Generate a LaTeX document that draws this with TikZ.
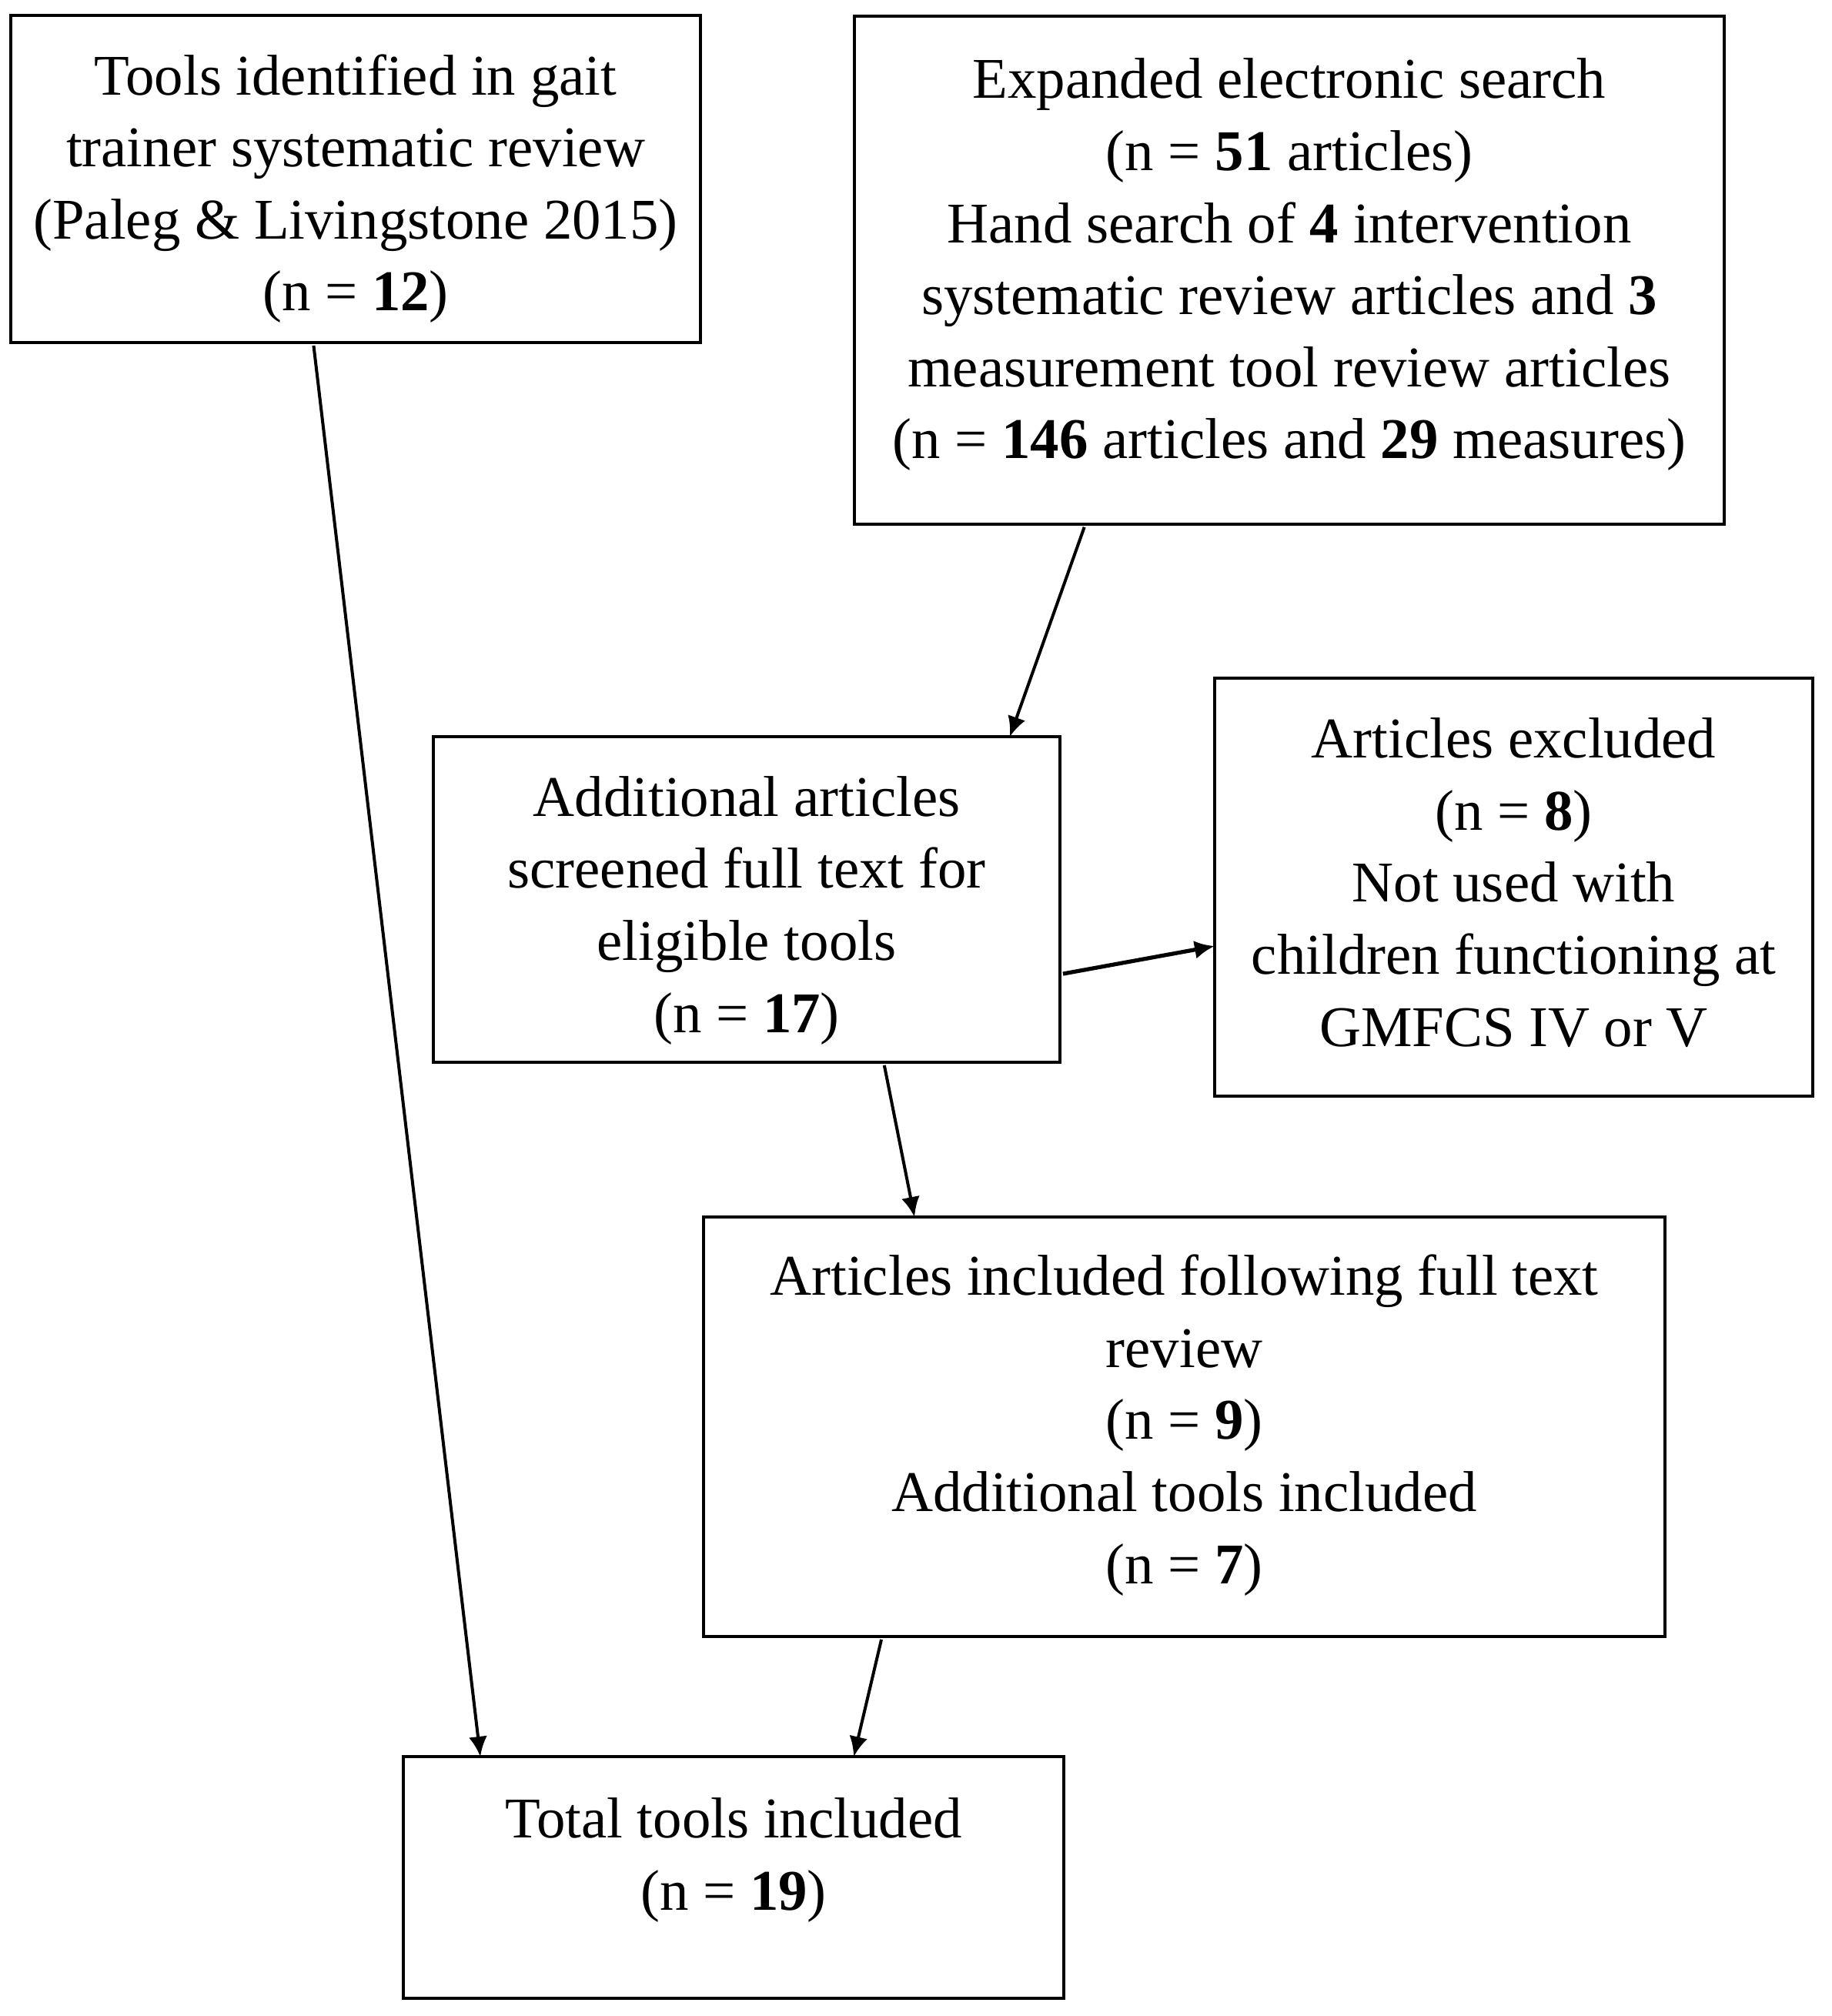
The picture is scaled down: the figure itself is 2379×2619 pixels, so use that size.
\documentclass[tikz,border=0pt]{standalone}
\usepackage{fontspec}
\setmainfont{Liberation Serif}
\usetikzlibrary{arrows.meta,calc}
\begin{document}
\begin{tikzpicture}[x=0.25pt,y=-0.25pt,
  box/.style={draw=black,line width=0.8pt,inner sep=0pt,outer sep=0pt},
  txt/.style={align=center,anchor=base,inner sep=0pt,font=\fontsize{18.7}{23.4}\selectfont},
  arr/.style={-{Latex[length=6.5pt,width=6pt]},line width=1pt,shorten <=1pt}]
\fill[white] (0,0) rectangle (2379,2619);
\useasboundingbox (0,0) rectangle (2379,2619);
% boxes
\node[box,minimum width=224pt,minimum height=106.25pt] (b1) at (462,232.5) {};
\node[box,minimum width=282.5pt,minimum height=165pt] (b2) at (1675,351) {};
\node[box,minimum width=203.5pt,minimum height=105.75pt] (b3) at (970,1168.5) {};
\node[box,minimum width=194.25pt,minimum height=135.75pt] (b4) at (1966.5,1152.5) {};
\node[box,minimum width=312.25pt,minimum height=136.25pt] (b5) at (1538.5,1853.5) {};
\node[box,minimum width=214.5pt,minimum height=78.5pt] (b6) at (953,2439) {};
% texts (anchored at the baseline of their last line)
\node[txt] (t1) at (462,404) {Tools identified in gait\\trainer systematic review\\(Paleg \& Livingstone 2015)\\(n = \textbf{12})};
\node[txt] (t2) at (1675,596) {Expanded electronic search\\(n = \textbf{51} articles)\\Hand search of \textbf{4} intervention\\systematic review articles and \textbf{3}\\measurement tool review articles\\(n = \textbf{146} articles and \textbf{29} measures)};
\node[txt] (t3) at (970,1341) {Additional articles\\screened full text for\\eligible tools\\(n = \textbf{17})};
\node[txt] (t4) at (1966.5,1359) {Articles excluded\\(n = \textbf{8})\\Not used with\\children functioning at\\GMFCS IV or V};
\node[txt] (t5) at (1538.5,2057) {Articles included following full text\\review\\(n = \textbf{9})\\Additional tools included\\(n = \textbf{7})};
\node[txt] (t6) at (953,2481) {Total tools included\\(n = \textbf{19})};
% arrows
\draw[arr] ($(b1.south west)!0.4386!(b1.south east)$) -- ($(b6.north west)!0.1166!(b6.north east)$);
\draw[arr] ($(b2.south west)!0.2655!(b2.south east)$) -- ($(b3.north west)!0.920!(b3.north east)$);
\draw[arr,line width=1.3pt] ($(b3.north east)!0.730!(b3.south east)$) -- ($(b4.north west)!0.641!(b4.south west)$);
\draw[arr] ($(b3.south west)!0.7187!(b3.south east)$) -- ($(b5.north west)!0.2194!(b5.north east)$);
\draw[arr] ($(b5.south west)!0.1857!(b5.south east)$) -- ($(b6.north west)!0.682!(b6.north east)$);
\end{tikzpicture}
\end{document}
